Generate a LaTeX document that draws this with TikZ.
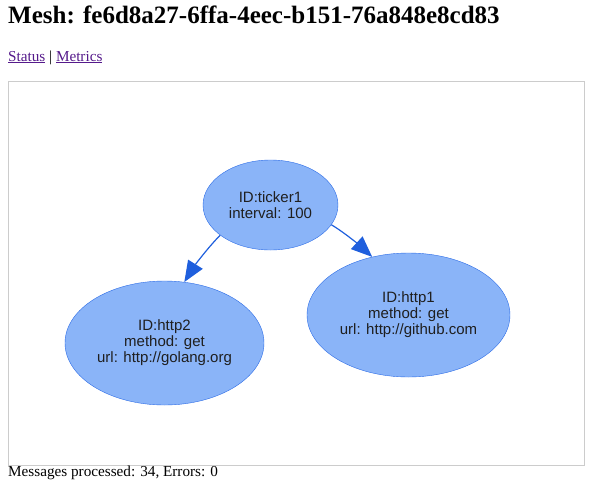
\documentclass[tikz,border=0pt]{standalone}
\usepackage{fontspec}
\setmainfont{Liberation Serif}
\newfontfamily\graphfont{Liberation Sans}
\usetikzlibrary{shapes.geometric,arrows.meta}
\definecolor{nodefill}{HTML}{8AB4F8}
\definecolor{nodeline}{HTML}{2B6BE6}
\definecolor{edgeline}{HTML}{1F5FDD}
\definecolor{visited}{HTML}{551A8B}
\definecolor{frameline}{HTML}{CCCCCC}

\begin{document}
\begin{tikzpicture}[x=1pt,y=-1pt,
    meshnode/.style={ellipse,draw=nodeline,fill=nodefill,inner sep=0pt,align=center,
      font=\graphfont\fontsize{15}{16}\selectfont,text=black!88},
    edge/.style={draw=edgeline,line width=1.2pt,-{Triangle[length=21pt,width=17pt]}}]
   \useasboundingbox (0,0) rectangle (600,493);
   % page text
   \node[anchor=base west,inner sep=0pt,font=\bfseries\fontsize{25}{29}\selectfont] (title) at (8,23)
     {Mesh: fe6d8a27-6ffa-4eec-b151-76a848e8cd83};
   \node[anchor=base west,inner sep=0pt,font=\fontsize{15.2}{18}\selectfont] (links) at (8,61)
     {\textcolor{visited}{\underline{Status}} | \textcolor{visited}{\underline{Metrics}}};
   \draw[frameline,line width=1pt] (8,81) rectangle (584,465);
   \node[anchor=base west,inner sep=0pt,font=\fontsize{15.2}{18}\selectfont] (stats) at (8,476)
     {Messages processed: 34, Errors: 0};
   % mesh graph
   \node[meshnode,minimum width=135pt,minimum height=90pt] (ticker1) at (270.5,205) {ID:ticker1\\interval: 100};
   \node[meshnode,minimum width=199pt,minimum height=124pt] (http2) at (164.5,343) {ID:http2\\method: get\\url: http://golang.org};
   \node[meshnode,minimum width=203pt,minimum height=124pt] (http1) at (408.5,315) {ID:http1\\method: get\\url: http://github.com};
   \draw[edge] (ticker1.211) .. controls +(-12,12) and +(10,-16) .. (http2.72);
   \draw[edge] (ticker1.342) .. controls +(12,7) and +(-12,-11) .. (http1.122);
  \end{tikzpicture}
\end{document}
